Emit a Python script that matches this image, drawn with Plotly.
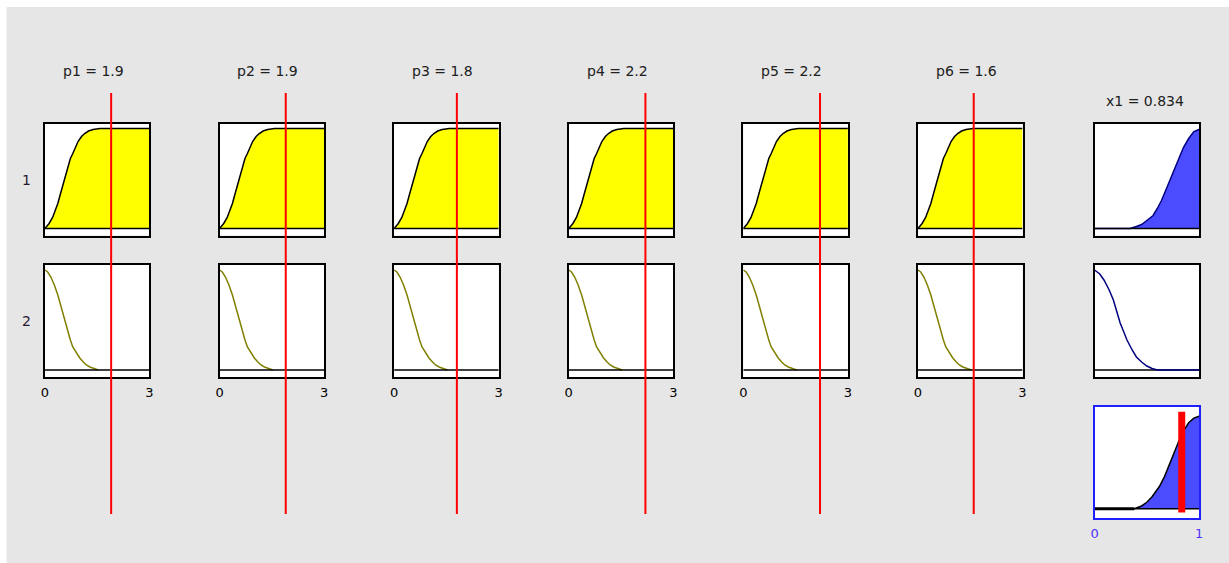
import plotly.graph_objects as go

# ---------------- data ----------------
input_names = ["p1", "p2", "p3", "p4", "p5", "p6"]
input_values = [1.9, 1.9, 1.8, 2.2, 2.2, 1.6]
input_range = [0, 3]
input_ticks = ["0", "3"]
output_name = "x1"
output_value = 0.834
output_range = [0, 1]
output_ticks = ["0", "1"]
rule_labels = ["1", "2"]

# input MF of rule 1 (rising) and rule 2 (falling)
mf1_in_x = [0, 0.03, 0.12, 0.22, 0.30, 0.37, 0.44, 0.51, 0.58, 0.66, 0.73, 0.80,
            0.88, 0.95, 1.05, 1.14, 1.25, 1.38, 1.58, 3.0]
mf1_in_y = [0, 0.01, 0.05, 0.11, 0.18, 0.25, 0.34, 0.43, 0.53, 0.63, 0.70, 0.75,
            0.82, 0.87, 0.92, 0.95, 0.975, 0.99, 1.0, 1.0]
mf2_in_x = [0, 0.08, 0.17, 0.27, 0.37, 0.44, 0.51, 0.58, 0.66, 0.73, 0.80, 0.90,
            1.00, 1.10, 1.19, 1.29, 1.38, 1.53]
mf2_in_y = [1.0, 0.98, 0.93, 0.85, 0.75, 0.66, 0.57, 0.47, 0.38, 0.30, 0.23, 0.17,
            0.12, 0.08, 0.05, 0.03, 0.02, 0.0]
# output MFs
mf1_out_x = [0, 0.34, 0.40, 0.45, 0.50, 0.56, 0.60, 0.64, 0.68, 0.72, 0.76, 0.80,
             0.85, 0.90, 0.95, 1.0]
mf1_out_y = [0, 0, 0.02, 0.04, 0.08, 0.13, 0.20, 0.28, 0.38, 0.48, 0.58, 0.68,
             0.81, 0.90, 0.97, 0.99]
mf2_out_x = [0, 0.05, 0.09, 0.14, 0.18, 0.21, 0.245, 0.28, 0.31, 0.36, 0.40, 0.45,
             0.50, 0.55, 0.60, 1.0]
mf2_out_y = [1.0, 0.96, 0.90, 0.80, 0.70, 0.59, 0.47, 0.38, 0.30, 0.20, 0.13, 0.08,
             0.04, 0.015, 0.0, 0.0]
# aggregated output
agg_x = [0, 0.38, 0.45, 0.50, 0.55, 0.62, 0.67, 0.72, 0.77, 0.82, 0.85, 0.90, 0.95, 1.0]
agg_y = [0, 0, 0.03, 0.07, 0.13, 0.24, 0.35, 0.49, 0.64, 0.77, 0.84, 0.93, 0.98, 1.0]

# ---------------- styles / geometry ----------------
W, H = 1229, 563
FONT = "DejaVu Sans"
GRAY = "#e6e6e6"
YELLOW = "#ffff00"
BLUEFILL = "#4b4bff"
NAVY = "#000080"
OLIVE = "#808000"
RED = "#ff0000"
AXBLUE = "#2020ff"
TICKBLUE = "#5030ff"

col_lefts = [45.3 + 174.5 * i for i in range(6)] + [1094.3]
col_w = 104.5
row_px = [(123.5, 235.5), (265.0, 377.0)]
agg_px = (407.0, 518.0)
mf_yrange = [-0.07, 1.05]
agg_yrange = [-0.1, 1.1]

# the page is photographed slightly narrower than laid out; compensate
X_OFF, X_SCALE = 4.4, 0.9929


def px2x(px):
    return (px - X_OFF) / X_SCALE / W


def py2y(py):
    return 1 - py / H


layout = dict(
    width=W, height=H, autosize=False,
    margin=dict(l=0, r=0, t=0, b=0, pad=0),
    paper_bgcolor=GRAY, plot_bgcolor="white",
    showlegend=False,
    font=dict(family=FONT, size=14, color="#202020"),
    shapes=[], annotations=[],
)
traces = []
counter = [0]


def add_axis(x0, x1, y0, y1, xrange, yrange, linecolor, ticktext=None, tickcolor="black"):
    counter[0] += 1
    n = counter[0]
    sfx = "" if n == 1 else str(n)
    xa = dict(domain=[px2x(x0), px2x(x1)], range=xrange, anchor="y" + sfx,
              showgrid=False, zeroline=False, showline=True, mirror=True,
              linecolor=linecolor, linewidth=1.5, fixedrange=True)
    if ticktext:
        xa.update(tickmode="array", tickvals=xrange, ticktext=ticktext,
                  ticks="outside", ticklen=3, tickcolor="rgba(0,0,0,0)",
                  tickfont=dict(family=FONT, size=13, color=tickcolor))
    else:
        xa.update(showticklabels=False, ticks="")
    ya = dict(domain=[py2y(y1), py2y(y0)], range=yrange, anchor="x" + sfx,
              showgrid=False, zeroline=False, showline=True, mirror=True,
              linecolor=linecolor, linewidth=1.5, showticklabels=False,
              ticks="", fixedrange=True)
    layout["xaxis" + sfx] = xa
    layout["yaxis" + sfx] = ya
    return "x" + sfx, "y" + sfx


def line_trace(xr, yr, xs, ys, color, width=1.5, fill=None, fillcolor=None):
    t = go.Scatter(x=xs, y=ys, xaxis=xr, yaxis=yr, mode="lines",
                   line=dict(color=color, width=width), hoverinfo="skip")
    if fill:
        t.update(fill=fill, fillcolor=fillcolor)
    traces.append(t)


# ---- input columns ----
for i, (name, val) in enumerate(zip(input_names, input_values)):
    x0 = col_lefts[i]
    x1 = x0 + col_w
    # rule 1
    xr, yr = add_axis(x0, x1, *row_px[0], input_range, mf_yrange, "black")
    line_trace(xr, yr, mf1_in_x, mf1_in_y, "black", 1.5, "tozeroy", YELLOW)
    line_trace(xr, yr, input_range, [0, 0], "black", 1.5)
    top_xref = xr
    # rule 2
    xr2, yr2 = add_axis(x0, x1, *row_px[1], input_range, mf_yrange, "black",
                        ticktext=input_ticks)
    line_trace(xr2, yr2, mf2_in_x, mf2_in_y, OLIVE, 1.5)
    line_trace(xr2, yr2, input_range, [0, 0], "black", 1.5)
    # title
    layout["annotations"].append(dict(
        text=f"{name} = {val}", x=px2x(x0 + col_w / 2 - 4), y=py2y(71),
        xref="paper", yref="paper", showarrow=False, xanchor="center",
        yanchor="middle", font=dict(size=14, color="#202020")))
    # red index line across the column
    layout["shapes"].append(dict(
        type="line", xref=top_xref, yref="paper", x0=val, x1=val,
        y0=py2y(514), y1=py2y(93), line=dict(color=RED, width=2),
        layer="above"))

# ---- output column ----
ox0 = col_lefts[6]
ox1 = ox0 + col_w
xr, yr = add_axis(ox0, ox1, *row_px[0], output_range, mf_yrange, "black")
line_trace(xr, yr, mf1_out_x, mf1_out_y, NAVY, 1.5, "tozeroy", BLUEFILL)
line_trace(xr, yr, output_range, [0, 0], "black", 1.5)
xr, yr = add_axis(ox0, ox1, *row_px[1], output_range, mf_yrange, "black")
line_trace(xr, yr, output_range, [0, 0], "black", 1.5)
line_trace(xr, yr, mf2_out_x, mf2_out_y, NAVY, 1.5)
# aggregate
xr, yr = add_axis(ox0, ox1, *agg_px, output_range, agg_yrange, AXBLUE,
                  ticktext=output_ticks, tickcolor=TICKBLUE)
line_trace(xr, yr, agg_x, agg_y, "black", 1.5, "tozeroy", BLUEFILL)
line_trace(xr, yr, output_range, [0, 0], "black", 1.5)
line_trace(xr, yr, agg_x[:2], agg_y[:2], "black", 3)
layout["shapes"].append(dict(
    type="line", xref=xr, yref=yr, x0=output_value, x1=output_value,
    y0=-0.04, y1=1.05, line=dict(color=RED, width=7), layer="above"))
layout["annotations"].append(dict(
    text=f"{output_name} = {output_value}", x=px2x(ox0 + col_w / 2 - 2),
    y=py2y(101), xref="paper", yref="paper", showarrow=False,
    xanchor="center", yanchor="middle", font=dict(size=14, color="#202020")))

# ---- rule numbers ----
for lab, (r0, r1) in zip(rule_labels, row_px):
    layout["annotations"].append(dict(
        text=lab, x=px2x(27), y=py2y((r0 + r1) / 2), xref="paper", yref="paper",
        showarrow=False, xanchor="center", yanchor="middle",
        font=dict(size=14, color="#2a1a30")))

# white strips at the top and left edges of the window
layout["shapes"].append(dict(type="rect", xref="paper", yref="paper",
                             x0=-0.01, x1=px2x(7), y0=0, y1=1,
                             fillcolor="white", line=dict(width=0), layer="below"))
layout["shapes"].append(dict(type="rect", xref="paper", yref="paper",
                             x0=-0.01, x1=1.01, y0=py2y(7), y1=1,
                             fillcolor="white", line=dict(width=0), layer="below"))

fig = go.Figure(data=traces, layout=layout)
fig.write_html(
    "out.html",
    config={"displayModeBar": False, "responsive": False},
    post_script=(
        "document.documentElement.style.margin='0';"
        "document.documentElement.style.padding='0';"
        "document.documentElement.style.overflow='hidden';"
        "document.body.style.margin='0';"
        "document.body.style.padding='0';"
        "document.body.style.overflow='hidden';"
        "document.body.style.width='1229px';"
        "document.body.style.height='563px';"
        "document.documentElement.style.background="
        "'linear-gradient(to right, #ffffff 0px, #ffffff 20px, #e6e6e6 20px)';"
    ),
)
